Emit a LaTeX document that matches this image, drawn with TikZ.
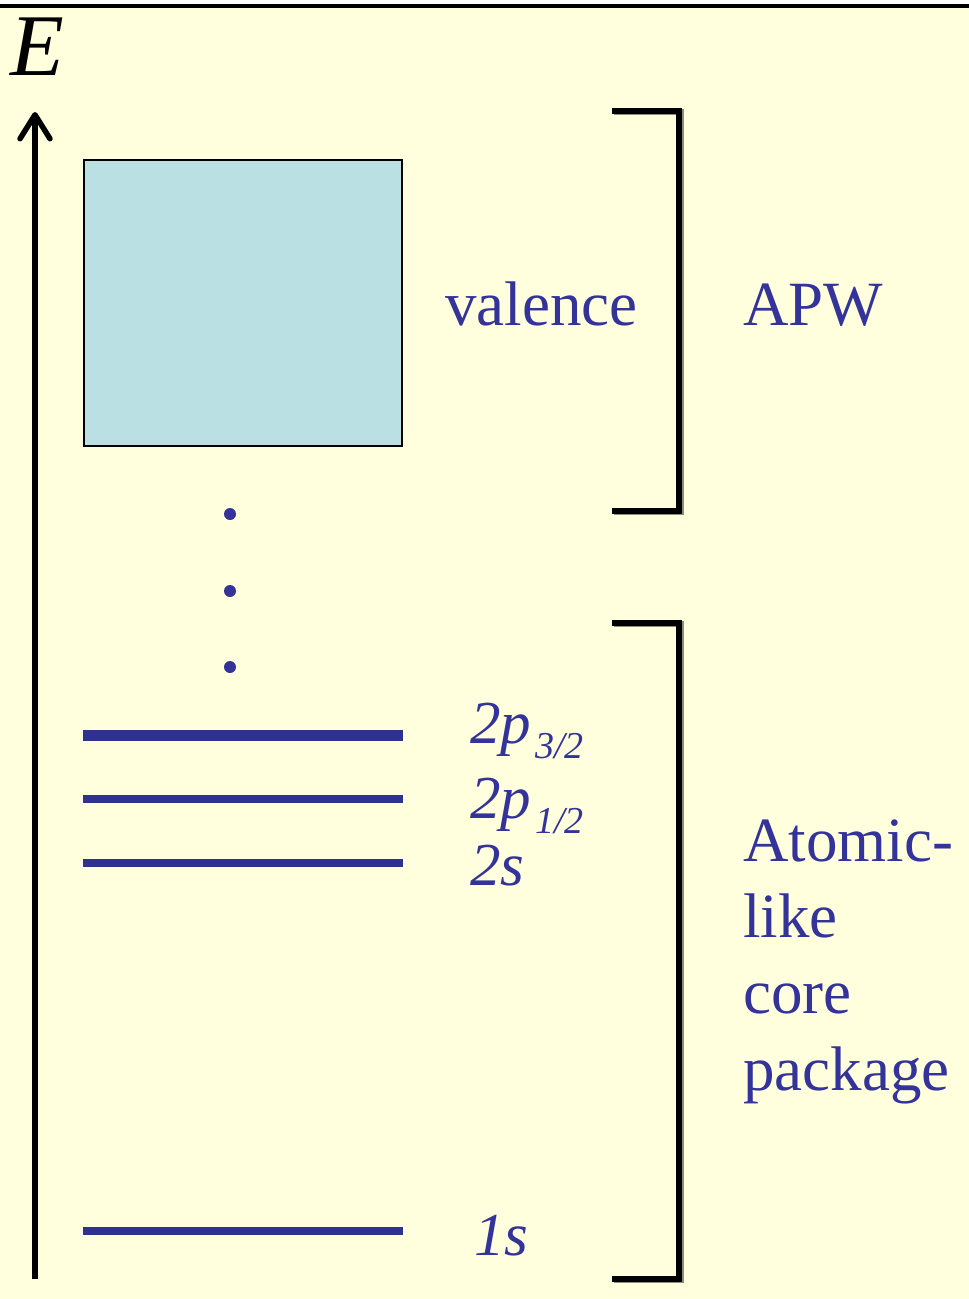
\documentclass[tikz,border=0pt]{standalone}
\usepackage{fontspec}
\setmainfont{Liberation Serif}
\usetikzlibrary{arrows.meta}
\definecolor{paper}{HTML}{FFFFDD}
\definecolor{ink}{HTML}{333399}
\definecolor{level}{HTML}{2E3190}
\definecolor{band}{HTML}{BAE0E3}
\definecolor{brkshadow}{HTML}{8C8C80}
\begin{document}
\begin{tikzpicture}[x=1pt,y=-1pt,
  lbl/.style={inner sep=0pt, anchor=base west, text=ink, font=\fontsize{63}{63}\selectfont},
  sub/.style={inner sep=0pt, anchor=base west, text=ink, font=\fontsize{61}{61}\selectfont\itshape},
  lvl/.style={draw=level, line cap=butt},
  brk/.style={line width=6pt, line join=miter},
  dotnode/.style={circle, fill=ink, inner sep=0pt, minimum size=12pt}]
\useasboundingbox (0,0) rectangle (969,1299);
% page and top rule
\fill[paper] (0,6) rectangle (969,1299);
\draw[line width=3.5pt] (0,6) -- (969,6);

% energy axis
\node[anchor=base west, inner sep=0pt, font=\fontsize{88}{88}\selectfont\itshape] (E) at (10,75) {E};
\coordinate (ebot) at (35,1279);
\coordinate (etop) at (35,112);
\draw[line width=5.5pt, -{Straight Barb[length=24pt,width=30pt,round]}] (ebot) -- (etop);

% valence band
\node[draw, line width=2pt, fill=band, minimum width=318pt, minimum height=286pt, inner sep=0pt] (valbox) at (243,303) {};
\node[lbl] (valence) at (445,325) {valence};

% continuation dots
\node[dotnode] (d1) at (230,514) {};
\node[dotnode] (d2) at (230,591) {};
\node[dotnode] (d3) at (230,667) {};

% core levels
\draw[lvl, line width=11pt] (83,735) -- (403,735);
\draw[lvl, line width=8pt] (83,799) -- (403,799);
\draw[lvl, line width=8pt] (83,863) -- (403,863);
\draw[lvl, line width=8pt] (83,1231) -- (403,1231);

\node[sub] (l2p3) at (470,743) {2p\hspace{4pt}\raisebox{-15pt}{\fontsize{38}{38}\selectfont 3/2}};
\node[sub] (l2p1) at (470,818) {2p\hspace{4pt}\raisebox{-15pt}{\fontsize{38}{38}\selectfont 1/2}};
\node[sub] (l2s) at (470,885) {2s};
\node[sub] (l1s) at (474,1255) {1s};

% brackets, each with a faint shadow on its outer side
\draw[brk, brkshadow, xshift=2pt, yshift=-1pt] (612,110.5) -- (678.5,110.5) -- (678.5,510.5) -- (612,510.5);
\draw[brk] (612,110.5) -- (678.5,110.5) -- (678.5,510.5) -- (612,510.5);
\draw[brk, brkshadow, xshift=2pt, yshift=-1pt] (612,623) -- (678.5,623) -- (678.5,1279) -- (612,1279);
\draw[brk] (612,623) -- (678.5,623) -- (678.5,1279) -- (612,1279);

\node[lbl] (apw) at (743,325) {APW};
\node[lbl] (core1) at (743,861) {Atomic-};
\node[lbl] (core2) at (743,937) {like};
\node[lbl] (core3) at (743,1013) {core};
\node[lbl] (core4) at (743,1090) {package};
\end{tikzpicture}
\end{document}
